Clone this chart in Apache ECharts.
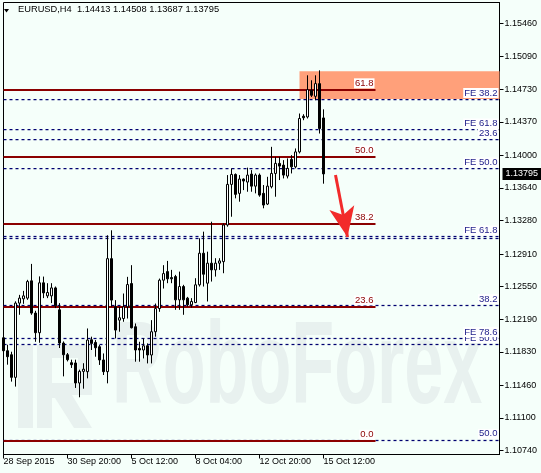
<!DOCTYPE html>
<html><head><meta charset="utf-8">
<script src="https://cdn.jsdelivr.net/npm/echarts@6/dist/echarts.min.js"></script>
<style>html,body{margin:0;padding:0;background:#f5fffa;}#c{width:541px;height:473px;}</style>
</head><body><div id="c"></div>
<script>
// ---- data ----
const chartTitle = 'EURUSD,H4  1.14413 1.14508 1.13687 1.13795';
const opens  = [1.11985,1.11842,1.11798,1.11548,1.12368,1.12415,1.12423,1.12614,1.12258,1.12041,
                1.12592,1.12448,1.12448,1.12536,1.12294,1.11927,1.11798,1.11710,1.11707,1.11486,
                1.11614,1.11611,1.11963,1.11934,1.11886,1.11740,1.11611,1.12859,1.12327,1.12180,
                1.12198,1.12327,1.12584,1.12107,1.11868,1.11850,1.11897,1.11795,1.12052,1.12308,
                1.12621,1.12716,1.12650,1.12661,1.12404,1.12551,1.12423,1.12349,1.12374,1.12570,
                1.12919,1.12588,1.12809,1.12735,1.12809,1.12826,1.13231,1.13679,1.13789,1.13580,
                1.13738,1.13705,1.13793,1.13660,1.13782,1.13580,1.13462,1.13653,1.13800,1.13911,
                1.13892,1.13771,1.13955,1.13873,1.14038,1.14432,1.14424,1.14718,1.14652,1.14792,
                1.14413];
const closes = [1.11842,1.11776,1.11548,1.12368,1.12423,1.12448,1.12606,1.12258,1.12041,1.12592,
                1.12481,1.12485,1.12536,1.12338,1.11927,1.11798,1.11743,1.11688,1.11486,1.11614,
                1.11638,1.11960,1.11923,1.11875,1.11740,1.11611,1.12859,1.12401,1.12070,1.12206,
                1.12327,1.12573,1.12096,1.11850,1.11850,1.11897,1.11795,1.12052,1.12308,1.12621,
                1.12694,1.12636,1.12636,1.12404,1.12551,1.12404,1.12349,1.12386,1.12570,1.12919,
                1.12687,1.12809,1.12735,1.12809,1.12834,1.13231,1.13679,1.13789,1.13569,1.13738,
                1.13716,1.13782,1.13660,1.13782,1.13561,1.13451,1.13660,1.13800,1.13911,1.13881,
                1.13782,1.13856,1.13873,1.14038,1.14407,1.14415,1.14726,1.14663,1.14792,1.14296,
                1.13795];
const lows   = [1.11787,1.11688,1.11501,1.11446,1.12239,1.12360,1.12404,1.12239,1.11941,1.11930,
                1.12423,1.12423,1.12368,1.12313,1.11872,1.11559,1.11724,1.11652,1.11431,1.11328,
                1.11423,1.11537,1.11850,1.11776,1.11685,1.11574,1.11482,1.12327,1.11978,1.12052,
                1.12162,1.12198,1.12088,1.11721,1.11721,1.11757,1.11702,1.11702,1.11997,1.12272,
                1.12529,1.12588,1.12588,1.12294,1.12294,1.12239,1.12330,1.12319,1.12368,1.12551,
                1.12551,1.12386,1.12606,1.12661,1.12735,1.12698,1.13212,1.13322,1.13525,1.13488,
                1.13616,1.13598,1.13598,1.13580,1.13543,1.13415,1.13451,1.13635,1.13543,1.13727,
                1.13745,1.13745,1.13800,1.13856,1.14021,1.14388,1.14407,1.14645,1.14608,1.14241,
                1.13687];
const highs  = [1.12019,1.11908,1.11831,1.12388,1.12459,1.12503,1.12625,1.12801,1.12283,1.12663,
                1.12661,1.12588,1.12588,1.12551,1.12368,1.11945,1.11817,1.11743,1.11743,1.11633,
                1.11704,1.12088,1.11997,1.11960,1.11905,1.11812,1.13117,1.13172,1.12401,1.12327,
                1.12474,1.12658,1.12787,1.12143,1.11941,1.11978,1.11923,1.12180,1.12363,1.12639,
                1.12787,1.12834,1.12735,1.12680,1.12716,1.12570,1.12437,1.12423,1.12643,1.13084,
                1.13157,1.12936,1.13267,1.12864,1.12864,1.13249,1.13782,1.13856,1.13800,1.13782,
                1.13745,1.13864,1.13837,1.13800,1.13800,1.13672,1.13763,1.14094,1.13983,1.13983,
                1.13947,1.13966,1.14002,1.14076,1.14462,1.14454,1.14884,1.14829,1.14884,1.14939,
                1.14508];

const totalSlots = 125;              // candles + empty space on the right
const xTickLabels = ['28 Sep 2015','30 Sep 20:00','5 Oct 12:00','8 Oct 04:00','12 Oct 20:00','15 Oct 12:00'];
const xTickStep = 16;
const yTicks = [1.15460,1.15090,1.14730,1.14370,1.14000,1.13640,1.13280,1.12910,1.12550,1.12190,1.11830,1.11460,1.11100,1.10740];
const yMin = 1.10696, yMax = 1.15688;

const fiboNames  = ['0.0','23.6','38.2','50.0','61.8'];
const fiboPrices = [1.10848,1.12331,1.13248,1.13989,1.14729];
const fiboEndIdx = 93;

const feNames  = ['FE 38.2','FE 61.8','23.6','FE 50.0','FE 61.8','','38.2','FE 50.0','FE 78.6','50.0'];
const fePrices = [1.14623,1.14285,1.14178,1.13856,1.13104,1.13082,1.12346,1.11916,1.11982,1.10858];

const zoneStartIdx = 74, zoneTop = 1.14928, zoneBottom = 1.14623;
const arrowFrom = [83, 1.13782], arrowTo = [86, 1.13098];
const lastPrice = 1.13795;

// categories (H4 bar times, weekends skipped)
const categories = [];
(function(){
  let t = Date.UTC(2015, 8, 28, 4);
  while (categories.length < totalSlots) {
    const d = new Date(t);
    const wd = d.getUTCDay();
    if (wd !== 0 && wd !== 6) {
      categories.push(d.getUTCFullYear()+'.'+String(d.getUTCMonth()+1).padStart(2,'0')+'.'+
        String(d.getUTCDate()).padStart(2,'0')+' '+String(d.getUTCHours()).padStart(2,'0')+':00');
    }
    t += 4*3600*1000;
  }
})();

const candleData = opens.map((o,i)=>[o, closes[i], lows[i], highs[i]]);
const firstCat = categories[0], lastCat = categories[totalSlots-1];

const FONT = 'Liberation Sans';
const BG = '#f5fffa';
const WM = '#e8f1ef';

const chart = echarts.init(document.getElementById('c'), null, {renderer:'canvas'});
chart.setOption({
  backgroundColor: BG,
  animation: false,
  grid: {left: 3.5, right: 41.5, top: 2.5, bottom: 18.5, show: true, borderColor: '#000', borderWidth: 1, backgroundColor: 'transparent'},
  xAxis: {
    type: 'category', data: categories, boundaryGap: false,
    axisLine: {lineStyle: {color: '#000', width: 1}},
    axisTick: {length: 4, lineStyle: {color: '#000'}, interval: (i)=> i % xTickStep === 0 && i/xTickStep < xTickLabels.length},
    axisLabel: {
      interval: (i)=> i % xTickStep === 0 && i/xTickStep < xTickLabels.length,
      formatter: (v, i)=> xTickLabels[i/xTickStep] || '',
      align: 'left', margin: 3, color: '#000', fontFamily: FONT, fontSize: 9
    },
    splitLine: {show: false}
  },
  yAxis: {
    type: 'value', position: 'right', min: yMin, max: yMax, scale: true,
    axisLine: {show: true, lineStyle: {color: '#000'}},
    axisTick: {show: true, length: 4, customValues: yTicks, lineStyle: {color: '#000'}},
    axisLabel: {customValues: yTicks, formatter: v => v.toFixed(5), margin: 5, color: '#000', fontFamily: FONT, fontSize: 9},
    splitLine: {show: false}
  },
  graphic: [
    {type:'polygon', z: 10, shape:{points:[[4,9],[9,9],[6.5,12.5]]}, style:{fill:'#000'}},
    {type:'text', left: 18, top: 5, z: 10, style:{text: chartTitle, font:'9.3px '+FONT, fill:'#000'}},
    // watermark
    {type:'group', z: 0, children: [
      {type:'rect', shape:{x:18, y:345, width:15, height:83}, style:{fill:WM}},
      {type:'polygon', shape:{points:[[37,345],[92,345],[92,395],[72,395],[92,428],[74,428],[55,398],[52,398],[52,428],[37,428]]}, style:{fill:WM}},
      {type:'rect', shape:{x:52, y:358, width:26, height:25}, style:{fill:BG}},
      {type:'text', x: 112, y: 429, scaleX: 0.605, style:{text:'RoboForex', font:'bold 116px '+FONT, fill:WM, textVerticalAlign:'bottom'}}
    ]}
  ],
  series: [
    {type:'line', data: [], z: 1, silent: true,
      markArea: {silent: true, itemStyle: {color: '#ffa07a', opacity: 1},
        data: [[{coord:[categories[zoneStartIdx], zoneTop]}, {coord:[lastCat, zoneBottom]}]]}},
    {type:'line', data: [], z: 2, silent: true,
      markLine: {silent: true, symbol: ['none','none'], animation: false,
        lineStyle: {type: [3,3], color: '#000070', width: 1.25, opacity: 1},
        label: {position: 'insideEndTop', distance: 1, color: '#1c1c88', fontFamily: FONT, fontSize: 9.5,
                backgroundColor: '#ffffff', padding: [0,1,0,1], formatter: p => p.name},
        data: fePrices.map((p,i)=>[
          {name: feNames[i], coord:[firstCat, p], label: {show: feNames[i] !== ''}},
          {coord:[lastCat, p]}])}},
    {type:'line', data: [], z: 3, silent: true,
      markLine: {silent: true, symbol: ['none','none'], animation: false,
        lineStyle: {type: 'solid', color: '#8b0000', width: 2, opacity: 1},
        label: {position: 'insideEndTop', distance: 1, color: '#8b0000', fontFamily: FONT, fontSize: 9.5,
                backgroundColor: '#ffffff', padding: [0,1,0,1], formatter: p => p.name},
        data: fiboPrices.map((p,i)=>[{name: fiboNames[i], coord:[firstCat, p]}, {coord:[categories[fiboEndIdx], p]}])}},
    {type:'candlestick', data: candleData, z: 5, barWidth: 3,
      itemStyle: {color: '#ffffff', color0: '#000000', borderColor: '#000000', borderColor0: '#000000', borderWidth: 1}},
    {type:'line', data: [], z: 6, silent: true,
      markLine: {silent: true, symbol: ['none','arrow'], symbolSize: [19, 30], animation: false,
        lineStyle: {type:'solid', color:'#f22b2b', width: 3, opacity: 1},
        label: {show: false},
        data: [[{coord:[categories[arrowFrom[0]], arrowFrom[1]]}, {coord:[categories[arrowTo[0]], arrowTo[1]]}]]}},
    {type:'line', data: [], z: 7, silent: true,
      markLine: {silent: true, symbol: ['none','none'], animation: false,
        lineStyle: {color: 'rgba(0,0,0,0)', width: 1, opacity: 1},
        label: {show: true, position: 'end', distance: 3, color: '#ffffff', backgroundColor: '#000000', padding: [1,3,1,3],
                fontFamily: FONT, fontSize: 9, lineHeight: 10, opacity: 1, formatter: () => lastPrice.toFixed(5)},
        data: [[{coord:[firstCat, lastPrice]}, {coord:[lastCat, lastPrice]}]]}}
  ]
});
</script></body></html>
